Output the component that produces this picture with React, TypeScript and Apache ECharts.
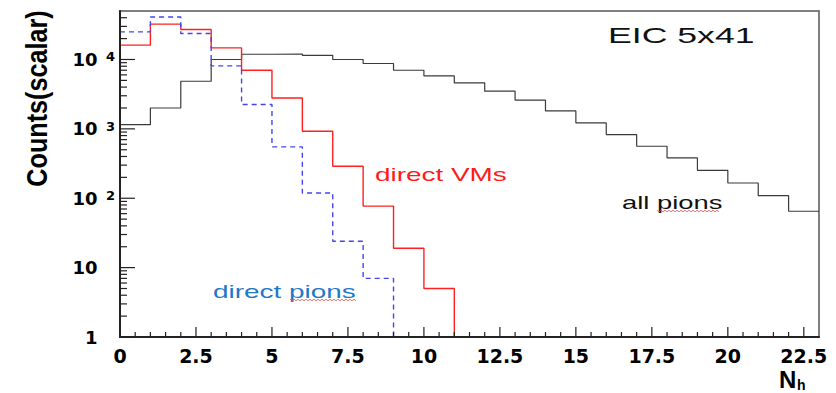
import React, { useEffect, useRef } from "react";
import * as echarts from "echarts";

// Histogram bin contents (bins of width 1 starting at N_h = 0)
const allPions = [1150, 2000, 4860, 10000, 11900, 12000, 11500, 10000, 8750, 7000, 5800, 4600, 3490, 2590, 1815, 1220, 828, 562, 381, 253, 166, 109, 65];
const directVMs = [16100, 32300, 27000, 14700, 7000, 2790, 925, 289, 77, 19, 5];
const directPions = [25000, 41000, 23700, 8100, 2250, 550, 119, 24, 7];

const xMin = 0;
const xMax = 23;
const yMin = 1;
const yMax = 50000;

const xTickValues = [0, 2.5, 5, 7.5, 10, 12.5, 15, 17.5, 20, 22.5];
const xTickLabels = ["0", "2.5", "5", "7.5", "10", "12.5", "15", "17.5", "20", "22.5"];
const xMinorTicks = [
  0.5, 1, 1.5, 2, 3, 3.5, 4, 4.5, 5.5, 6, 6.5, 7, 8, 8.5, 9, 9.5,
  10.5, 11, 11.5, 12, 13, 13.5, 14, 14.5, 15.5, 16, 16.5, 17, 18, 18.5, 19, 19.5,
  20.5, 21, 21.5, 22,
];
const yTickValues = [1, 10, 100, 1000, 10000];
const yTickBase = ["1", "10", "10", "10", "10"];
const yTickExp = ["", "", "2", "3", "4"];
const yMinorTicks = [
  2, 3, 4, 5, 6, 7, 8, 9,
  20, 30, 40, 50, 60, 70, 80, 90,
  200, 300, 400, 500, 600, 700, 800, 900,
  2000, 3000, 4000, 5000, 6000, 7000, 8000, 9000,
  20000, 30000, 40000,
];

// histogram -> step points (left edges + closing edge)
function histPoints(counts: number[], closeToFloor: boolean) {
  const pts: number[][] = counts.map((v, i) => [i, v]);
  pts.push([counts.length, closeToFloor ? yMin : counts[counts.length - 1]]);
  return pts;
}

function wavy(x0: number, x1: number, y: number) {
  const pts: number[][] = [];
  let k = 0;
  for (let x = x0; x <= x1; x += 2) {
    pts.push([x, y + (k % 2 === 0 ? -0.8 : 0.8)]);
    k++;
  }
  return pts;
}

const LABEL_FONT = "'Liberation Sans', Arial, Helvetica, sans-serif";
const TICK_FONT = "'DejaVu Sans', Verdana, sans-serif";

const textGraphics: any[] = [
  {
    type: "text",
    x: 36.5,
    y: 98.5,
    rotation: Math.PI / 2,
    scaleX: 0.84,
    style: { text: "Counts(scalar)", fontFamily: LABEL_FONT, fontWeight: "bold", fontSize: 30, fill: "#000", align: "center", verticalAlign: "middle" },
  },
  {
    type: "text",
    x: 779,
    y: 379,
    style: { text: "N", fontFamily: LABEL_FONT, fontWeight: "bold", fontSize: 24, fill: "#000", align: "left", verticalAlign: "middle" },
  },
  {
    type: "text",
    x: 797,
    y: 384.5,
    style: { text: "h", fontFamily: LABEL_FONT, fontWeight: "bold", fontSize: 14, fill: "#000", align: "left", verticalAlign: "middle" },
  },
  {
    type: "text",
    x: 608,
    y: 35.2,
    scaleX: 1.62,
    style: { text: "EIC 5x41", fontFamily: LABEL_FONT, fontSize: 22, fill: "#111", align: "left", verticalAlign: "middle" },
  },
  {
    type: "text",
    x: 375,
    y: 174.7,
    scaleX: 1.55,
    style: { text: "direct VMs", fontFamily: LABEL_FONT, fontSize: 18, fill: "#ff1a1a", align: "left", verticalAlign: "middle" },
  },
  {
    type: "text",
    x: 622,
    y: 202.7,
    scaleX: 1.52,
    style: { text: "all pions", fontFamily: LABEL_FONT, fontSize: 18, fill: "#111", align: "left", verticalAlign: "middle" },
  },
  {
    type: "text",
    x: 213,
    y: 292,
    scaleX: 1.55,
    style: { text: "direct pions", fontFamily: LABEL_FONT, fontSize: 18, fill: "#1f78c8", align: "left", verticalAlign: "middle" },
  },
  {
    type: "polyline",
    shape: { points: wavy(657, 719, 211) },
    style: { stroke: "#e05050", lineWidth: 0.8, fill: null },
  },
  {
    type: "polyline",
    shape: { points: wavy(290, 356, 300) },
    style: { stroke: "#e05050", lineWidth: 0.8, fill: null },
  },
];

export default function App() {
  const ref = useRef<HTMLDivElement>(null);
  useEffect(() => {
    if (!ref.current) return;
    const chart = echarts.init(ref.current, undefined, { renderer: "svg" });
    chart.setOption({
      animation: false,
      backgroundColor: "#ffffff",
      grid: {
        left: 120,
        top: 11,
        right: 17,
        bottom: 56,
        containLabel: false,
        outerBoundsMode: "none",
        show: true,
        borderColor: "#555",
        borderWidth: 1.5,
        backgroundColor: "transparent",
      },
      xAxis: {
        type: "value",
        position: "bottom",
        min: xMin,
        max: xMax,
        interval: 2.5,
        axisLine: { show: true, onZero: false, lineStyle: { color: "#222", width: 2 } },
        axisTick: { show: false },
        axisLabel: {
          show: true,
          customValues: xTickValues,
          margin: 11,
          fontFamily: TICK_FONT,
          fontWeight: "bold",
          fontSize: 19,
          lineHeight: 16,
          color: "#000",
          formatter: (v: number) => {
            const i = xTickValues.indexOf(v);
            return i >= 0 ? xTickLabels[i] : "";
          },
        },
        splitLine: { show: false },
      },
      yAxis: {
        type: "log",
        logBase: 10,
        position: "left",
        min: yMin,
        max: yMax,
        axisLine: { show: true, lineStyle: { color: "#222", width: 2 } },
        axisTick: { show: false },
        axisLabel: {
          show: true,
          customValues: yTickValues,
          margin: 5,
          formatter: (v: number) => {
            let idx = -1;
            yTickValues.forEach((t, i) => {
              if (Math.abs(t - v) / t < 1e-6) idx = i;
            });
            if (idx < 0) return "";
            const e = yTickExp[idx];
            return e ? `{b|${yTickBase[idx]}}{sup|${e}}` : `{b|${yTickBase[idx]}}{sp| }`;
          },
          rich: {
            b: { fontFamily: TICK_FONT, fontWeight: "bold", fontSize: 18, lineHeight: 18, color: "#000", verticalAlign: "bottom", padding: [5, 0, 0, 0] },
            sup: { fontFamily: TICK_FONT, fontWeight: "bold", fontSize: 13, lineHeight: 13, color: "#000", width: 17.5, align: "right", verticalAlign: "top" },
            sp: { fontFamily: TICK_FONT, fontSize: 13, lineHeight: 13, width: 17.5 },
          },
        },
        splitLine: { show: false },
      },
      series: [
        {
          name: "all pions",
          type: "line",
          step: "end",
          symbol: "none",
          data: histPoints(allPions, false),
          lineStyle: { color: "#3a3a3a", width: 1.2 },
          itemStyle: { color: "#3a3a3a" },
        },
        {
          name: "direct VMs",
          type: "line",
          step: "end",
          symbol: "none",
          data: histPoints(directVMs, true),
          lineStyle: { color: "#ff2020", width: 1.4 },
          itemStyle: { color: "#ff2020" },
        },
        {
          name: "direct pions",
          type: "line",
          step: "end",
          symbol: "none",
          data: histPoints(directPions, true),
          lineStyle: { color: "#4444ee", width: 1.4, type: [5, 4] },
          itemStyle: { color: "#4444ee" },
        },
      ],
    });

    // ROOT-style inward ticks and axis lines, placed through the chart's own scales
    const px = (x: number, y: number) =>
      chart.convertToPixel({ xAxisIndex: 0, yAxisIndex: 0 }, [x, y]) as number[];
    const tickEls: any[] = [];
    const tickStyle = { stroke: "#222", lineWidth: 1.2, fill: null };
    const addX = (vals: number[], len: number) =>
      vals.forEach((v) => {
        const p = px(v, yMin);
        tickEls.push({ type: "polyline", silent: true, z: 10, shape: { points: [[p[0], p[1]], [p[0], p[1] - len]] }, style: tickStyle });
      });
    const addY = (vals: number[], len: number) =>
      vals.forEach((v) => {
        const p = px(xMin, v);
        tickEls.push({ type: "polyline", silent: true, z: 10, shape: { points: [[p[0], p[1]], [p[0] + len, p[1]]] }, style: tickStyle });
      });
    addX(xTickValues, 10);
    addX(xMinorTicks, 5);
    addY(yTickValues, 15);
    addY(yMinorTicks, 7);
    const tl = px(xMin, yMax);
    const bl = px(xMin, yMin);
    const br = px(xMax, yMin);
    tickEls.push({ type: "polyline", silent: true, z: 11, shape: { points: [tl, bl, br] }, style: { stroke: "#222", lineWidth: 2, fill: null } });

    chart.setOption({ graphic: [...textGraphics, ...tickEls] });
    return () => chart.dispose();
  }, []);
  return (
    <div
      ref={ref}
      style={{ position: "fixed", left: 0, top: 0, width: 836, height: 393, background: "#fff" }}
    />
  );
}
